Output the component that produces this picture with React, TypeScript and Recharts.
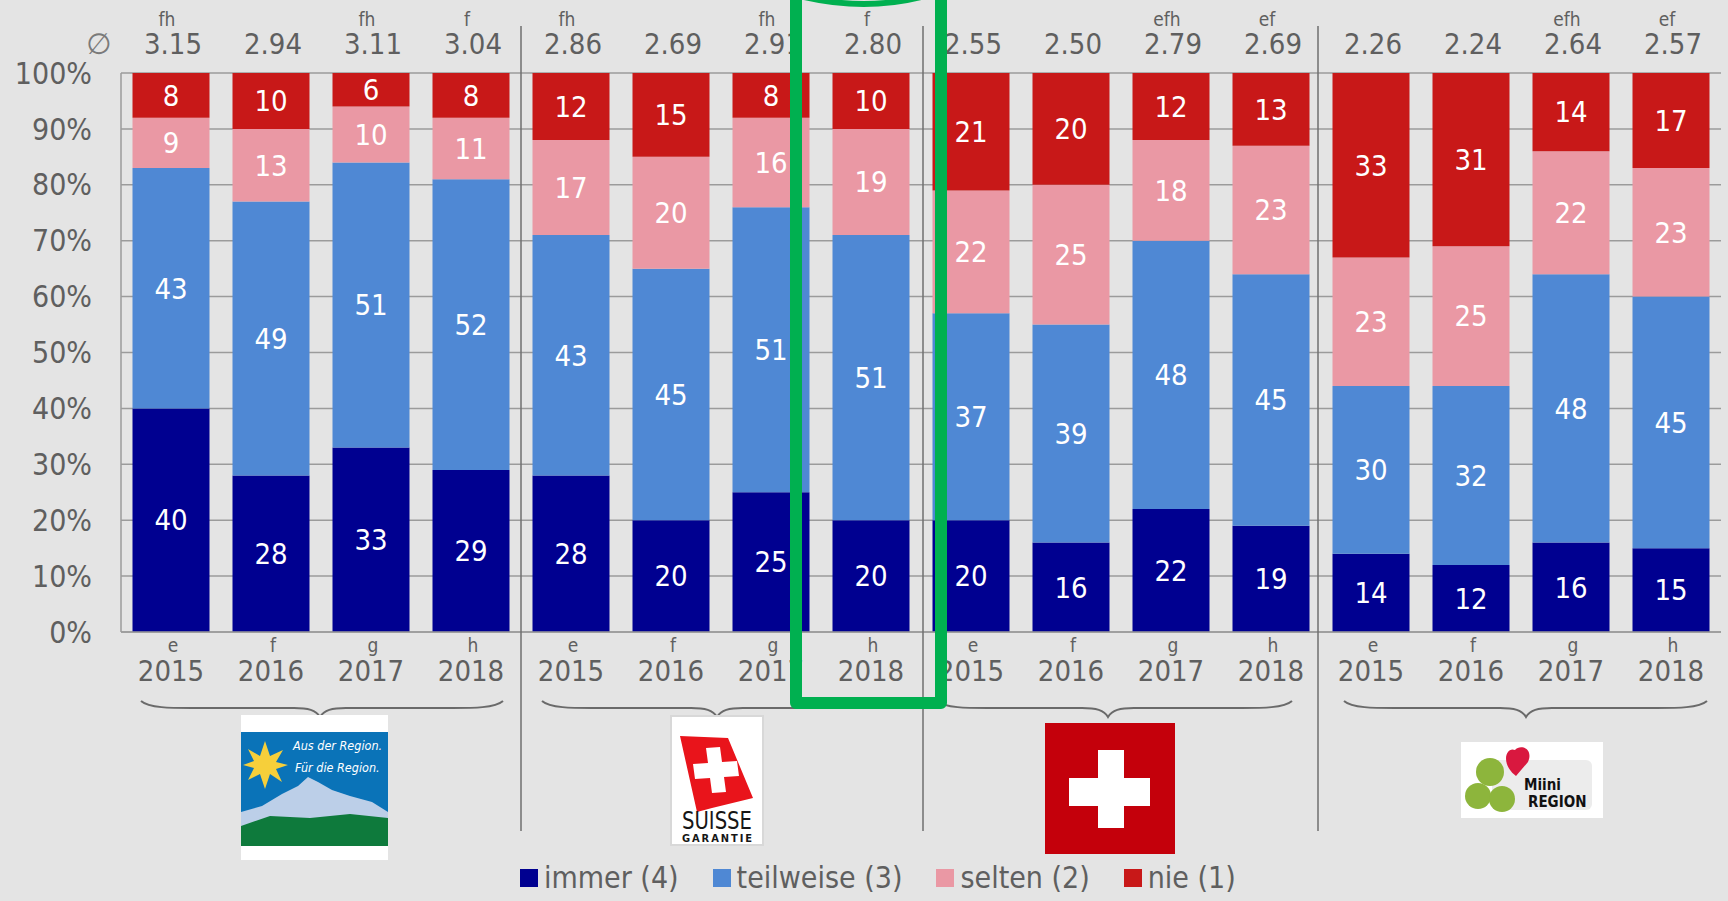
import React from "react";
import { BarChart, Bar, XAxis, YAxis, CartesianGrid, Legend, LabelList } from "recharts";

// one entry per bar, four products with four years each
const years = ["2015", "2016", "2017", "2018", "2015", "2016", "2017", "2018", "2015", "2016", "2017", "2018", "2015", "2016", "2017", "2018"];
const yearLetters = ["e", "f", "g", "h", "e", "f", "g", "h", "e", "f", "g", "h", "e", "f", "g", "h"];
const means = ["3.15", "2.94", "3.11", "3.04", "2.86", "2.69", "2.91", "2.80", "2.55", "2.50", "2.79", "2.69", "2.26", "2.24", "2.64", "2.57"];
const meanLetters = ["fh", "", "fh", "f", "fh", "", "fh", "f", "", "", "efh", "ef", "", "", "efh", "ef"];

const immer = [40, 28, 33, 29, 28, 20, 25, 20, 20, 16, 22, 19, 14, 12, 16, 15];
const teilweise = [43, 49, 51, 52, 43, 45, 51, 51, 37, 39, 48, 45, 30, 32, 48, 45];
const selten = [9, 13, 10, 11, 17, 20, 16, 19, 22, 25, 18, 23, 23, 25, 22, 23];
const nie = [8, 10, 6, 8, 12, 15, 8, 10, 21, 20, 12, 13, 33, 31, 14, 17];

const percentTicks = [0, 10, 20, 30, 40, 50, 60, 70, 80, 90, 100];

const data = years.map((year, i) => ({
  key: `${i}-${year}`,
  immer: immer[i],
  teilweise: teilweise[i],
  selten: selten[i],
  nie: nie[i],
}));

const FONT = "'DejaVu Sans Condensed', 'DejaVu Sans', sans-serif";
const TEXT = "#5f5f5f";

const BottomTick = ({ x, index }: any) => (
  <g fontFamily={FONT} fill={TEXT} textAnchor="middle">
    <text x={x + 2} y={652} fontSize={19}>{yearLetters[index]}</text>
    <text x={x} y={681} fontSize={29}>{years[index]}</text>
  </g>
);

const TopTick = ({ x, index }: any) => (
  <g fontFamily={FONT} fill={TEXT} textAnchor="middle">
    <text x={x - 4} y={26} fontSize={19}>{meanLetters[index]}</text>
    <text x={x + 2} y={54} fontSize={29}>{means[index]}</text>
  </g>
);

const LegendContent = ({ payload }: any) => (
  <div style={{ display: "flex", justifyContent: "flex-start", gap: 34, paddingLeft: 520, fontFamily: FONT, fontSize: 30, color: TEXT, lineHeight: "36px" }}>
    {(payload || []).map((item: any) => (
      <div key={item.value} style={{ display: "flex", alignItems: "center", gap: 6 }}>
        <span style={{ width: 18, height: 18, background: item.color, display: "inline-block" }} />
        <span>{item.value}</span>
      </div>
    ))}
  </div>
);

const brace = (x1: number, tip: number, x2: number) =>
  `M${x1} 701 C${x1 + 8} 708 ${x1 + 30} 708 ${x1 + 50} 708 L${tip - 26} 708 C${tip - 12} 708 ${tip - 4} 710 ${tip} 717 C${tip + 4} 710 ${tip + 12} 708 ${tip + 26} 708 L${x2 - 50} 708 C${x2 - 30} 708 ${x2 - 8} 708 ${x2} 701`;

const Overlay = () => (
  <svg width={1728} height={901} style={{ position: "absolute", left: 0, top: 0, pointerEvents: "none" }}>
    <text x={99} y={54} fontSize={29} fill="#7a7a7a" textAnchor="middle" fontFamily="'DejaVu Sans', sans-serif">∅</text>

    {/* separators between the products */}
    <line x1={521} y1={26} x2={521} y2={831} stroke="#6f6f6f" strokeWidth={1.5} />
    <line x1={923} y1={26} x2={923} y2={831} stroke="#6f6f6f" strokeWidth={1.5} />
    <line x1={1318} y1={26} x2={1318} y2={831} stroke="#6f6f6f" strokeWidth={1.5} />

    <g fill="none" stroke="#6a6a6a" strokeWidth={2}>
      <path d={brace(141, 320, 503)} />
      <path d={brace(542, 717, 904)} />
      <path d={brace(937, 1108, 1292)} />
      <path d={brace(1344, 1526, 1707)} />
    </g>

    {/* logo: Aus der Region */}
    <rect x={241} y={715} width={147} height={145} fill="#fff" />
    <rect x={241} y={732} width={147} height={114} fill="#0a73b8" />
    <path d="M241 812 L262 806 L282 794 L298 786 L308 777 L318 782 L332 790 L350 796 L372 802 L388 812 L388 826 L241 826Z" fill="#bccfe8" />
    <path d="M241 826 L270 816 L310 818 L350 814 L388 818 L388 846 L241 846Z" fill="#0e7a3c" />
    <path d="M265 741 L270 756 L283 750 L276 762 L288 765 L276 769 L282 782 L270 774 L265 789 L260 774 L248 780 L254 768 L243 765 L254 761 L248 749 L260 756Z" fill="#f6cf3a" />
    <g fill="#fff" fontFamily="'DejaVu Sans Condensed', sans-serif" fontStyle="italic" fontSize={12.5}>
      <text x={293} y={750}>Aus der Region.</text>
      <text x={295} y={772}>Für die Region.</text>
    </g>

    {/* logo: Suisse Garantie */}
    <rect x={671} y={716} width={92} height={129} fill="#fff" stroke="#d8d8d8" strokeWidth={2} />
    <path d="M680 736 L728 738 L753 798 L712 808 L697 812Z" fill="#e9141b" />
    <path d="M706 748 L720 747 L722 762 L737 761 L739 776 L724 777 L726 792 L712 793 L710 778 L695 779 L693 764 L708 763Z" fill="#fff" />
    <text x={717} y={829} textAnchor="middle" fontSize={24} fontFamily="'Liberation Sans Narrow', 'DejaVu Sans Condensed', sans-serif" fill="#161616" textLength={70} lengthAdjust="spacingAndGlyphs">SUISSE</text>
    <text x={717} y={842} textAnchor="middle" fontSize={11} fontFamily="'DejaVu Sans Condensed', sans-serif" fontWeight="bold" fill="#161616" textLength={70}>GARANTIE</text>

    {/* logo: Swiss flag */}
    <rect x={1045} y={723} width={130} height={131} fill="#c4000b" />
    <rect x={1098} y={750} width={26} height={78} fill="#fff" />
    <rect x={1069} y={778} width={81} height={28} fill="#fff" />

    {/* logo: Miini Region */}
    <rect x={1461} y={742} width={142} height={76} fill="#fff" />
    <rect x={1492} y={760} width={100} height={50} rx={6} fill="#ececec" />
    <g fill="#8db53c">
      <circle cx={1490} cy={772} r={14} />
      <circle cx={1478} cy={796} r={13} />
      <circle cx={1502} cy={799} r={13} />
    </g>
    <path d="M1516 776 C1500 764 1506 746 1515 750 C1520 744 1534 748 1528 762Z" fill="#d9183f" />
    <g fill="#111" fontFamily="'DejaVu Sans Condensed', sans-serif" fontWeight="bold">
      <text x={1524} y={790} fontSize={15}>Miini</text>
      <text x={1528} y={807} fontSize={15}>REGION</text>
    </g>

    {/* green highlight around the 2018 bar */}
    <path d="M796 0 L796 703 L941 703 L941 0" fill="none" stroke="#00b050" strokeWidth={12} strokeLinejoin="round" />
    <path d="M800 -4 Q865 12 925 -4" fill="none" stroke="#00b050" strokeWidth={6} />
  </svg>
);

const App: React.FC = () => {
  return (
    <div style={{ position: "absolute", left: 0, top: 0, width: 1728, height: 901, background: "#e4e4e4", overflow: "hidden" }}>
      <BarChart width={1728} height={901} data={data} barCategoryGap="11.5%" margin={{ top: 0, right: 7, bottom: 232, left: 0 }}>
        <CartesianGrid horizontal vertical={false} stroke="#9b9b9b" strokeWidth={1.5} />
        <XAxis dataKey="key" interval={0} height={1} tickLine={false} axisLine={{ stroke: "#9b9b9b", strokeWidth: 1.5 }} tick={<BottomTick />} />
        <XAxis dataKey="key" xAxisId="top" orientation="top" interval={0} height={73} tickLine={false} axisLine={false} tick={<TopTick />} />
        <YAxis
          domain={[0, 100]}
          ticks={percentTicks}
          width={121}
          interval={0}
          tickSize={0}
          tickMargin={29}
          tickFormatter={(v) => `${v}%`}
          tick={{ fontFamily: FONT, fontSize: 30, fill: TEXT }}
          axisLine={{ stroke: "#9b9b9b", strokeWidth: 1.5 }}
          tickLine={false}
        />
        <Legend itemSorter={null} content={<LegendContent />} wrapperStyle={{ position: "absolute", left: 0, top: 860, width: 1728 }} />
        <Bar dataKey="immer" name="immer (4)" stackId="a" fill="#000090" isAnimationActive={false}>
          <LabelList dataKey="immer" position="center" fill="#fff" fontFamily={FONT} fontSize={29} />
        </Bar>
        <Bar dataKey="teilweise" name="teilweise (3)" stackId="a" fill="#4f88d4" isAnimationActive={false}>
          <LabelList dataKey="teilweise" position="center" fill="#fff" fontFamily={FONT} fontSize={29} />
        </Bar>
        <Bar dataKey="selten" name="selten (2)" stackId="a" fill="#ea98a4" isAnimationActive={false}>
          <LabelList dataKey="selten" position="center" fill="#fff" fontFamily={FONT} fontSize={29} />
        </Bar>
        <Bar dataKey="nie" name="nie (1)" stackId="a" fill="#c81818" isAnimationActive={false}>
          <LabelList dataKey="nie" position="center" fill="#fff" fontFamily={FONT} fontSize={29} />
        </Bar>
      </BarChart>
      <Overlay />
    </div>
  );
};

export default App;
